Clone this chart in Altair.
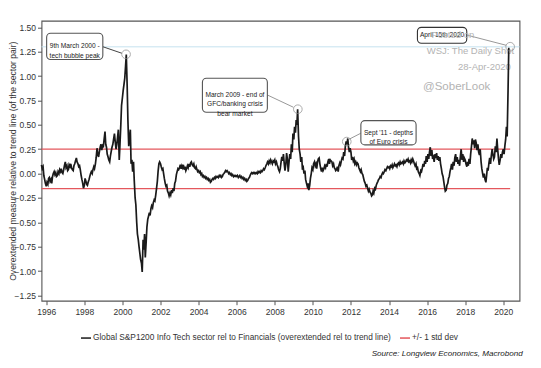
import altair as alt
import pandas as pd

# ---------------- data (semi-monthly readings, 1st and 15th) ----------------
v1995 = [0.09, 0.05, 0.07, -0.02, -0.06, -0.10]
v1996 = [-0.13, -0.09, -0.11, -0.05, -0.04, -0.08, -0.06, -0.10, -0.03, 0.00, 0.02, -0.01,
         0.01, -0.03, -0.02, 0.02, 0.00, 0.04, 0.02, 0.05, 0.01, 0.00, 0.04, 0.08]
v1997 = [0.12, 0.06, 0.08, 0.03, 0.04, 0.09, 0.07, 0.10, 0.06, 0.04, 0.03, 0.08,
         0.10, 0.13, 0.16, 0.12, 0.10, 0.07, 0.08, 0.04, -0.02, -0.06, -0.10, -0.15]
v1998 = [-0.12, -0.05, -0.08, -0.11, -0.12, -0.09, -0.06, -0.03, 0.00, 0.02, 0.00, 0.04,
         0.07, 0.05, 0.10, 0.16, 0.26, 0.20, 0.17, 0.22, 0.27, 0.30, 0.24, 0.29]
v1999 = [0.28, 0.35, 0.43, 0.30, 0.27, 0.20, 0.17, 0.14, 0.12, 0.18, 0.23, 0.27,
         0.30, 0.35, 0.41, 0.33, 0.25, 0.30, 0.38, 0.45, 0.14, 0.30, 0.50, 0.70]
v2000 = [0.78, 0.85, 0.92, 0.98, 1.10, 1.22, 0.90, 0.55, 0.28, 0.36, 0.45, 0.10,
         0.14, 0.02, 0.12, -0.07, -0.25, -0.32, -0.50, -0.62, -0.68, -0.75, -0.82, -0.88]
v2001 = [-0.92, -1.01, -0.68, -0.78, -0.62, -0.86, -0.70, -0.55, -0.47, -0.44, -0.40, -0.43,
         -0.36, -0.33, -0.35, -0.30, -0.27, -0.28, -0.22, -0.16, -0.08, 0.02, 0.10, 0.12]
v2002 = [0.10, 0.07, 0.04, 0.05, 0.00, -0.05, -0.10, -0.13, -0.12, -0.18, -0.20, -0.23,
         -0.20, -0.22, -0.17, -0.20, -0.15, -0.18, -0.10, -0.08, -0.01, 0.02, 0.05, 0.04]
v2003 = [0.06, 0.09, 0.05, 0.08, 0.06, 0.09, 0.04, 0.07, 0.03, 0.05, 0.08, 0.06,
         0.10, 0.07, 0.11, 0.12, 0.09, 0.08, 0.10, 0.06, 0.05, 0.07, 0.04, 0.02]
v2004 = [0.03, 0.01, 0.02, -0.01, 0.00, -0.03, -0.02, -0.04, -0.03, -0.05, -0.04, -0.06,
         -0.05, -0.07, -0.06, -0.09, -0.08, -0.06, -0.05, -0.06, -0.04, -0.05, -0.03, -0.04]
v2005 = [-0.03, -0.04, -0.02, -0.03, -0.02, -0.04, -0.03, -0.01, 0.00, 0.01, 0.03, 0.02,
         0.03, 0.02, 0.00, 0.01, -0.01, 0.00, -0.02, -0.01, -0.03, -0.02, -0.03, -0.02]
v2006 = [-0.03, -0.02, -0.04, -0.03, -0.02, -0.04, -0.03, -0.05, -0.04, -0.06, -0.05, -0.07,
         -0.06, -0.08, -0.07, -0.05, -0.04, -0.02, 0.00, 0.01, 0.00, 0.01, 0.00, 0.01]
v2007 = [0.00, 0.01, 0.00, 0.02, 0.01, 0.02, 0.01, 0.03, 0.02, 0.03, 0.05, 0.04,
         0.06, 0.08, 0.10, 0.12, 0.10, 0.13, 0.11, 0.14, 0.12, 0.10, 0.13, 0.12]
v2008 = [0.14, 0.10, 0.12, 0.09, 0.07, 0.04, 0.02, 0.05, 0.12, 0.17, 0.13, 0.20,
         0.10, 0.03, 0.10, 0.21, 0.14, 0.02, 0.12, 0.20, 0.15, 0.30, 0.22, 0.41]
v2009 = [0.35, 0.48, 0.42, 0.55, 0.50, 0.66, 0.38, 0.25, 0.20, 0.12, 0.17, 0.04,
         0.06, 0.00, 0.03, -0.06, -0.10, -0.13, -0.10, -0.17, -0.12, -0.05, 0.00, 0.06]
v2010 = [0.04, 0.10, 0.12, 0.08, 0.10, 0.05, 0.12, 0.15, 0.16, 0.10, 0.05, 0.02,
         0.06, 0.03, 0.05, 0.08, 0.06, 0.10, 0.07, 0.12, 0.15, 0.10, 0.14, 0.13]
v2011 = [0.12, 0.08, 0.10, 0.06, 0.05, 0.03, 0.04, 0.07, 0.02, 0.08, 0.11, 0.09,
         0.13, 0.16, 0.15, 0.22, 0.18, 0.28, 0.33, 0.30, 0.36, 0.27, 0.22, 0.26]
v2012 = [0.22, 0.14, 0.17, 0.13, 0.15, 0.10, 0.12, 0.09, 0.11, 0.10, 0.06, 0.04,
         0.02, 0.04, 0.00, -0.01, -0.05, -0.08, -0.10, -0.13, -0.12, -0.15, -0.18, -0.16]
v2013 = [-0.19, -0.20, -0.23, -0.22, -0.18, -0.20, -0.15, -0.16, -0.12, -0.10, -0.08, -0.06,
         -0.05, -0.03, -0.04, -0.01, 0.01, 0.00, 0.02, 0.04, 0.03, 0.05, 0.07, 0.06]
v2014 = [0.07, 0.05, 0.08, 0.07, 0.09, 0.06, 0.08, 0.10, 0.08, 0.09, 0.07, 0.10,
         0.11, 0.09, 0.12, 0.10, 0.11, 0.12, 0.10, 0.13, 0.11, 0.12, 0.14, 0.13]
v2015 = [0.15, 0.12, 0.13, 0.11, 0.14, 0.12, 0.15, 0.13, 0.10, 0.08, 0.10, 0.05,
         0.06, 0.02, 0.00, -0.02, 0.03, 0.02, 0.06, 0.10, 0.07, 0.13, 0.10, 0.18]
v2016 = [0.12, 0.20, 0.15, 0.22, 0.27, 0.18, 0.24, 0.15, 0.17, 0.12, 0.20, 0.16,
         0.21, 0.14, 0.18, 0.13, 0.17, 0.10, 0.05, 0.00, -0.03, -0.08, -0.14, -0.18]
v2017 = [-0.17, -0.12, -0.10, -0.05, -0.03, 0.02, 0.06, 0.10, 0.04, 0.12, 0.08, 0.16,
         0.20, 0.12, 0.17, 0.10, 0.14, 0.08, 0.18, 0.25, 0.14, 0.20, 0.12, 0.16]
v2018 = [0.14, 0.10, 0.07, 0.12, 0.08, 0.15, 0.10, 0.20, 0.28, 0.36, 0.30, 0.34,
         0.26, 0.35, 0.31, 0.24, 0.30, 0.22, 0.19, 0.25, 0.12, 0.05, 0.00, -0.04]
v2019 = [0.00, -0.06, -0.09, -0.02, 0.06, 0.03, 0.11, 0.16, 0.10, 0.18, 0.25, 0.20,
         0.15, 0.17, 0.28, 0.22, 0.36, 0.25, 0.15, 0.09, 0.14, 0.20, 0.16, 0.22]
v2020 = [0.25, 0.20, 0.29, 0.35, 0.48, 0.38, 0.85, 1.29]

SERIES = "Global S&P1200 Info Tech sector rel to Financials (overextended rel to trend line)"
STD = "+/- 1 std dev"
std_levels = [0.25, -0.155]
std_end = 2020.36
ref_level = 1.30

x_ticks = [1996, 1998, 2000, 2002, 2004, 2006, 2008, 2010, 2012, 2014, 2016, 2018, 2020]
y_ticks = [-1.25, -1.0, -0.75, -0.5, -0.25, 0.0, 0.25, 0.5, 0.75, 1.0, 1.25, 1.5]

# annotations (data coordinates)
ann_text = ["9th March 2000 -\ntech bubble peak",
            "March 2009 - end of\nGFC/banking crisis\nbear market",
            "Sept '11 - depths\nof Euro crisis",
            "April 15th 2020"]
box_x1 = [1996.02, 2004.20, 2012.52, 2015.49]
box_x2 = [1998.97, 2007.61, 2015.42, 2018.08]
box_y1 = [1.439, 0.977, 0.543, 1.500]
box_y2 = [1.170, 0.629, 0.294, 1.336]
circ_x = [2000.19, 2009.21, 2011.78, 2020.36]
circ_y = [1.223, 0.660, 0.328, 1.301]
lead_x1 = [1998.97, 2007.61, 2012.52, 2018.08]
lead_y1 = [1.301, 0.806, 0.414, 1.421]
lead_x2 = [1999.97, 2008.98, 2011.90, 2020.15]
lead_y2 = [1.234, 0.680, 0.352, 1.316]
lead_col = ["#444444", "#999999", "#999999", "#999999"]
box_col = ["#555555", "#555555", "#555555", "#333333"]

values = (v1995 + v1996 + v1997 + v1998 + v1999 + v2000 + v2001 + v2002 + v2003 + v2004
          + v2005 + v2006 + v2007 + v2008 + v2009 + v2010 + v2011 + v2012 + v2013
          + v2014 + v2015 + v2016 + v2017 + v2018 + v2019 + v2020)
dates = pd.date_range("1995-10-01", "2020-04-15", freq="SMS")
n = min(len(dates), len(values))
dates = dates[:n]
dec = dates.year + (dates.dayofyear - 1) / (365 + dates.is_leap_year.astype(int))
df = pd.DataFrame({"x": list(dec), "y": values[:n], "s": SERIES})

std_df = pd.DataFrame({"x": [1995.75] * 2, "x2": [std_end] * 2, "y": std_levels, "s": STD})
ref_df = pd.DataFrame({"x": [1995.75], "x2": [2020.85], "y": [ref_level]})
box_df = pd.DataFrame({"x": box_x1, "x2": box_x2, "y": box_y1, "y2": box_y2, "c": box_col,
                       "xc": [(a + b) / 2 for a, b in zip(box_x1, box_x2)],
                       "yc": [(a + b) / 2 for a, b in zip(box_y1, box_y2)],
                       "t": ann_text})
circ_df = pd.DataFrame({"x": circ_x, "y": circ_y})
lead_df = pd.DataFrame({"x": lead_x1, "x2": lead_x2, "y": lead_y1, "y2": lead_y2, "c": lead_col})

SANS = "Liberation Sans, Arial, sans-serif"

W, H = 478, 280
xscale = alt.Scale(domain=[1995.75, 2020.85], nice=False, zero=False)
yscale = alt.Scale(domain=[-1.304, 1.568], nice=False, zero=False)
xaxis = alt.Axis(values=x_ticks, format="d", title=None, grid=False, domain=False,
                 tickSize=4, tickColor="#555", labelFont=SANS, labelFontSize=8.5,
                 labelColor="#333", labelPadding=3)
yaxis = alt.Axis(values=y_ticks, format=".2f", grid=False, domain=False,
                 tickSize=4, tickColor="#555", labelFont=SANS, labelFontSize=8.5,
                 labelColor="#333", labelPadding=2,
                 title="Overextended measure relative to trend line (of the sector pair)",
                 titleFont=SANS, titleFontSize=8.6, titleColor="#333", titleFontWeight="normal",
                 titleAngle=270, titleX=-29, titleY=H / 2, titleAlign="center",
                 titleBaseline="middle")
X = alt.X("x:Q", scale=xscale, axis=xaxis)
Y = alt.Y("y:Q", scale=yscale, axis=yaxis)
color = alt.Color("s:N", scale=alt.Scale(domain=[SERIES, STD], range=["#1a1a1a", "#e4575c"]),
                  legend=alt.Legend(orient="none", legendX=38.5, legendY=311,
                                    direction="horizontal", symbolType="stroke",
                                    symbolSize=100, symbolStrokeWidth=1.5, labelOffset=1,
                                    columnPadding=6, title=None, padding=0, labelLimit=500,
                                    labelFont=SANS, labelFontSize=8.3, labelColor="#333"))

ref = alt.Chart(ref_df).mark_rule(color="#c5e2ef", strokeWidth=1).encode(x=X, x2="x2:Q", y=Y)
std = alt.Chart(std_df).mark_rule(strokeWidth=1.3).encode(x=X, x2="x2:Q", y=Y, color=color)


def wm(txt, x, y, size):
    return alt.Chart(ref_df).mark_text(align="left", baseline="middle", font=SANS,
                                       fontSize=size, color="#b3b3b3").encode(
        x=alt.value(x), y=alt.value(y), text=alt.value(txt))


wm1 = wm("WSJ: The Daily Shot", 385.2, 30.3, 9.5)
wm2 = wm("28-Apr-2020", 416.5, 46, 9.5)
wm3 = wm("@SoberLook", 381.5, 66, 11.5)
wm0 = wm("Posted on", 390, 14.3, 9.5)

line = alt.Chart(df).mark_line(strokeWidth=1.7, strokeJoin="miter").encode(
    x=X, y=Y, color=color)
leads = alt.Chart(lead_df).mark_rule(strokeWidth=1).encode(
    x=X, x2="x2:Q", y=Y, y2="y2:Q", color=alt.Color("c:N", scale=None))
circs = alt.Chart(circ_df).mark_point(shape="circle", size=75, filled=False, color="#8a8a8a",
                                      strokeWidth=1).encode(x=X, y=Y)
boxes = alt.Chart(box_df).mark_rect(fill="white", strokeWidth=1.1, cornerRadius=4).encode(
    x=X, x2="x2:Q", y=Y, y2="y2:Q", stroke=alt.Stroke("c:N", scale=None))
btext = alt.Chart(box_df).mark_text(font=SANS, fontSize=6.6, lineBreak="\n", lineHeight=9.2,
                                    color="#222", baseline="middle", align="center").encode(
    x=alt.X("xc:Q", scale=xscale, axis=xaxis), y=alt.Y("yc:Q", scale=yscale, axis=yaxis),
    text="t:N")
source = alt.Chart(ref_df).mark_text(align="right", baseline="alphabetic", font=SANS,
                                     fontSize=8.1, fontStyle="italic", color="#222").encode(
    x=alt.value(481.3), y=alt.value(335.5), text=alt.value("Source: Longview Economics, Macrobond"))

chart = alt.layer(ref, std, wm1, wm2, wm3, line, leads, circs, boxes, btext, wm0, source).properties(
    width=W, height=H,
    padding={"left": 33.5, "top": 12.7, "right": 13, "bottom": 58.3},
    autosize=alt.AutoSizeParams(type="none"),
    background="white",
).configure_view(stroke="#555", strokeWidth=1.1)

chart.save("out.html", embed_options={"renderer": "svg", "actions": False})
